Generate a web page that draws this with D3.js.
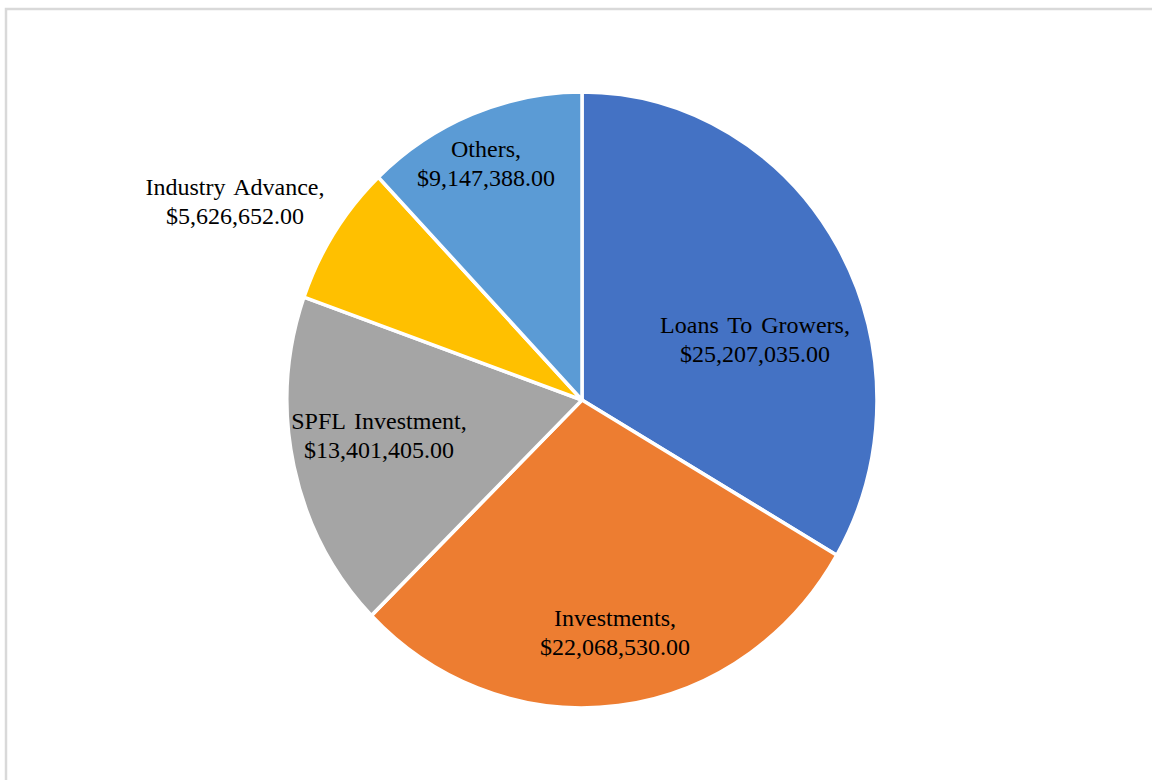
<!DOCTYPE html>
<html>
<head>
<meta charset="utf-8">
<script src="https://cdn.jsdelivr.net/npm/d3@7"></script>
<style>
  html, body { margin: 0; padding: 0; background: #fff; }
  svg { display: block; }
</style>
</head>
<body>
<script>
const WIDTH = 1152;
const HEIGHT = 780;
const CX = 582;
const CY = 400;
const RADIUS = 295;
const Y_STRETCH = 1.044;
const FONT_SIZE = 24;
const LINE_GAP = 29;

const categories = ["Loans To Growers", "Investments", "SPFL Investment", "Industry Advance", "Others"];
const amounts = [25207035, 22068530, 13401405, 5626652, 9147388];
const colors = ["#4472C4", "#ED7D31", "#A5A5A5", "#FFC000", "#5B9BD5"];

// label centres relative to the pie centre (best-fit placement)
const labelOffsets = [[173, -61], [33, 232], [-203, 35], [-347, -199], [-96, -237]];

const money = (v) => "$" + d3.format(",.2f")(v);

const svg = d3.select("body").append("svg")
  .attr("width", WIDTH)
  .attr("height", HEIGHT);

svg.append("rect")
  .attr("x", 6)
  .attr("y", 9)
  .attr("width", WIDTH + 20)
  .attr("height", HEIGHT + 20)
  .attr("fill", "#fff")
  .attr("stroke", "#d9d9d9")
  .attr("stroke-width", 2.5);

const rows = categories.map((c, i) => ({ name: c, value: amounts[i], color: colors[i], offset: labelOffsets[i] }));

const pie = d3.pie().sort(null).value((d) => d.value);
const arc = d3.arc().innerRadius(0).outerRadius(RADIUS);

const g = svg.append("g")
  .attr("transform", `translate(${CX},${CY}) scale(1,${Y_STRETCH})`);

g.selectAll("path")
  .data(pie(rows))
  .join("path")
  .attr("d", arc)
  .attr("fill", (d) => d.data.color)
  .attr("stroke", "#fff")
  .attr("stroke-width", 3.5)
  .attr("stroke-linejoin", "round");

const labels = svg.append("g")
  .attr("font-family", "'Liberation Serif', 'Times New Roman', serif")
  .attr("font-size", FONT_SIZE)
  .attr("word-spacing", 3)
  .attr("fill", "#000")
  .attr("text-anchor", "middle");

labels.selectAll("text")
  .data(rows)
  .join("text")
  .attr("x", (d) => CX + d.offset[0])
  .attr("y", (d) => CY + d.offset[1])
  .each(function (d) {
    const t = d3.select(this);
    t.append("tspan").attr("x", CX + d.offset[0]).attr("dy", -LINE_GAP / 2 + 8).text(d.name + ",");
    t.append("tspan").attr("x", CX + d.offset[0]).attr("dy", LINE_GAP).text(money(d.value));
  });
</script>
</body>
</html>
